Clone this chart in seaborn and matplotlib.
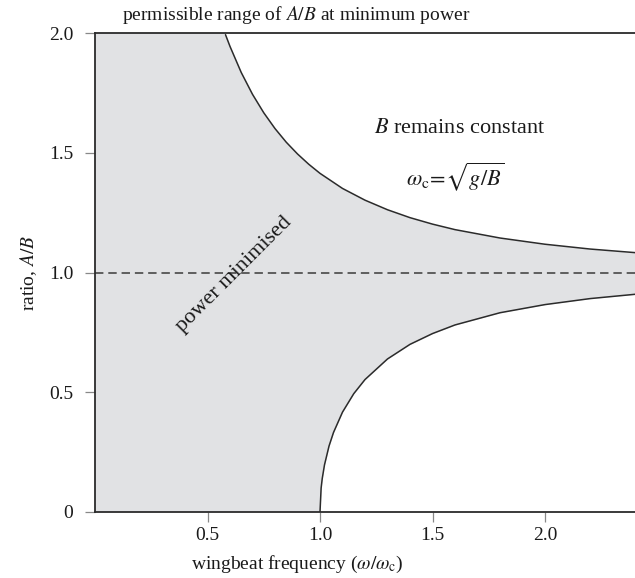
import numpy as np
import matplotlib
matplotlib.use("Agg")
import matplotlib.pyplot as plt
import seaborn as sns

# curves (omega/omega_c, A/B)
upper_x = [0.58, 0.6, 0.65, 0.7, 0.75, 0.8, 0.85, 0.9, 0.95, 1.0, 1.1, 1.2,
           1.3, 1.4, 1.5, 1.6, 1.8, 2.0, 2.2, 2.4]
upper_y = [1.993, 1.944, 1.835, 1.744, 1.667, 1.601, 1.544, 1.495, 1.452, 1.414,
           1.351, 1.302, 1.262, 1.229, 1.202, 1.179, 1.144, 1.118, 1.098, 1.083]
lower_x = [1.0, 1.005, 1.01, 1.02, 1.04, 1.06, 1.1, 1.15, 1.2, 1.3, 1.4, 1.5,
           1.6, 1.8, 2.0, 2.2, 2.4]
lower_y = [0.0, 0.100, 0.140, 0.197, 0.275, 0.332, 0.417, 0.494, 0.553, 0.639,
           0.700, 0.745, 0.781, 0.832, 0.866, 0.891, 0.909]
min_power_ratio = 1.0

x_ticks = [0.5, 1.0, 1.5, 2.0]
x_ticklabels = ["0.5", "1.0", "1.5", "2.0"]
y_ticks = [0, 0.5, 1.0, 1.5, 2.0]
y_ticklabels = ["0", "0.5", "1.0", "1.5", "2.0"]

sns.set_style("ticks")
plt.rcParams["font.family"] = "serif"
plt.rcParams["font.serif"] = ["Liberation Serif", "STIXGeneral", "DejaVu Serif"]
plt.rcParams["mathtext.fontset"] = "stix"

fill_col = "#e1e2e4"
line_col = "#2b2b2b"
txt_col = "#1a1a1a"

fig = plt.figure(figsize=(6.35, 5.78), dpi=100)
ax = fig.add_axes([95 / 635, 66 / 578, 540 / 635, 479 / 578])
ax.set_facecolor(fill_col)

ax.set_xlim(0, 2.4)
ax.set_ylim(0, 2.0)

# white outside the permissible band
ax.fill_between(upper_x, upper_y, 2.0, color="white", lw=0)
ax.fill_between(lower_x, 0, lower_y, color="white", lw=0)

sns.lineplot(x=upper_x, y=upper_y, color=line_col, lw=1.1, ax=ax)
sns.lineplot(x=lower_x, y=lower_y, color=line_col, lw=1.1, ax=ax)
ax.axhline(min_power_ratio, color="#3a3a3a", lw=1.1, ls=(0, (5.5, 3.2)))

ax.set_xticks(x_ticks)
ax.set_xticklabels(x_ticklabels)
ax.set_yticks(y_ticks)
ax.set_yticklabels(y_ticklabels)
ax.tick_params(axis="both", colors="#888888", length=7.5, width=0.9,
               labelsize=14, labelcolor=txt_col)
ax.tick_params(axis="y", pad=8)
ax.tick_params(axis="x", pad=3)

for s in ["left", "top", "bottom"]:
    ax.spines[s].set_color(line_col)
    ax.spines[s].set_linewidth(1.3)
ax.spines["right"].set_visible(False)

ax.set_ylabel("ratio, $A/B$", fontsize=14, color=txt_col, labelpad=7)
fig.text(297 / 635, (578 - 564) / 578,
         r"wingbeat frequency ($\omega/\omega_{\mathrm{c}}$)",
         fontsize=14, color=txt_col, ha="center", va="center")
fig.text(296 / 635, (578 - 15) / 578,
         "permissible range of $A/B$ at minimum power",
         fontsize=14, color=txt_col, ha="center", va="center")

ax.text(1.62, 1.60, "$B$ remains constant", fontsize=16, color=txt_col,
        ha="center", va="center")
ax.text(1.60, 1.40, r"$\omega_{\mathrm{c}}\!=\!\sqrt{g/B}$", fontsize=16,
        color=txt_col, ha="center", va="center")
ax.text(0.62, 0.99, "power minimised", fontsize=16, color=txt_col,
        rotation=45, ha="center", va="center", rotation_mode="anchor")

fig.savefig("out.png", dpi=100)
